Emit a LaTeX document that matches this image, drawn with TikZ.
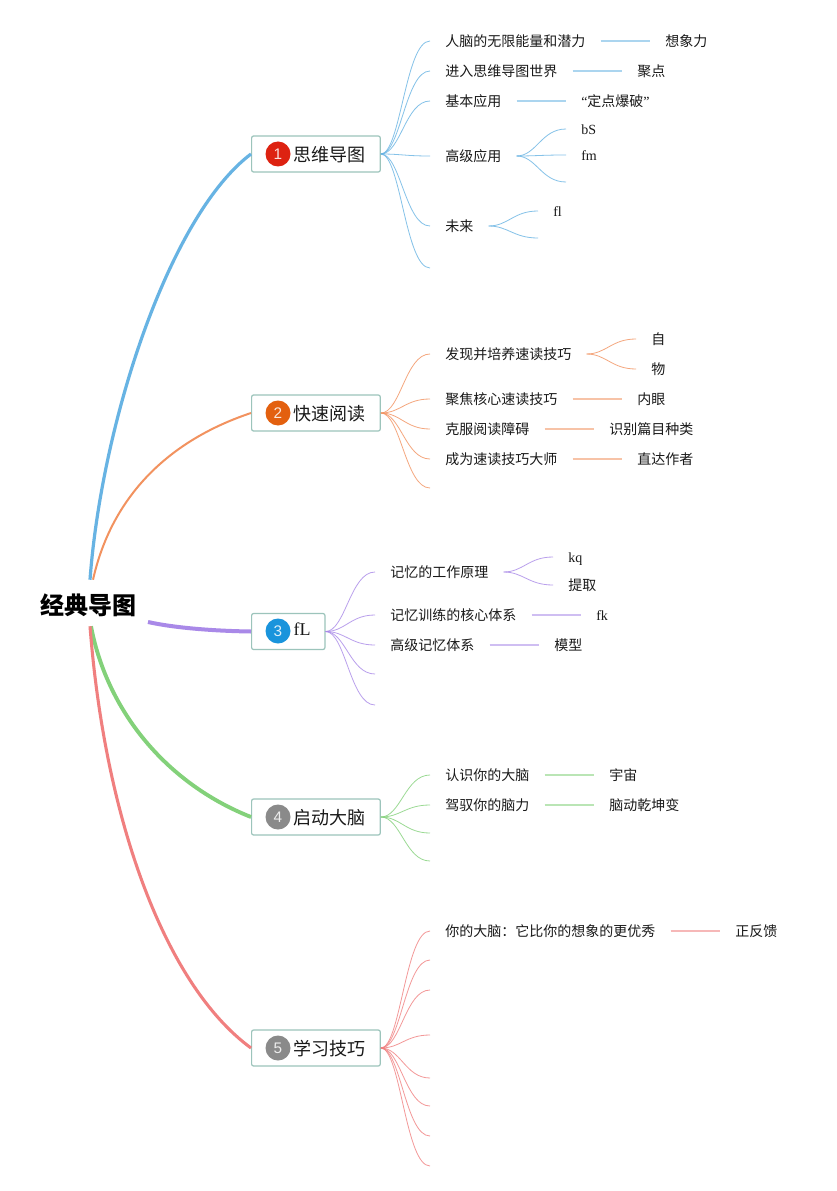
\documentclass[tikz,border=0pt]{standalone}
\usepackage{fontspec}
\setmainfont{Liberation Serif}
\newfontfamily\cjk{Noto Sans CJK SC}
\newfontfamily\numf{Liberation Sans}
\usetikzlibrary{calc}
\definecolor{cBlue}{HTML}{67B3E3}
\definecolor{cOrange}{HTML}{F2925F}
\definecolor{cPurple}{HTML}{A989E8}
\definecolor{cGreen}{HTML}{83D17A}
\definecolor{cRed}{HTML}{F07F7F}
\definecolor{cBox}{HTML}{9CC4BB}
\definecolor{bRed}{HTML}{DD2211}
\definecolor{bOrange}{HTML}{E3600F}
\definecolor{bBlue}{HTML}{1A94DC}
\definecolor{bGray}{HTML}{8A8A8A}
\tikzset{
 leaf/.style={anchor=west,inner xsep=11.25pt,inner ysep=0pt,text height=10.2pt,text depth=2pt,font=\cjk\fontsize{10.5}{12}\selectfont,text=black!90},
 topic/.style={anchor=west,draw=cBox,line width=0.9pt,rounded corners=1.5pt,fill=white,minimum height=27pt,inner ysep=0pt,align=left,text height=13pt,text depth=1.2pt,font=\cjk\fontsize{13.5}{15}\selectfont,text=black!90},
 badge/.style={circle,fill=#1,minimum size=18.75pt,inner sep=0pt,text=white!85!#1,font=\numf\fontsize{11.5}{13}\selectfont},
 rootn/.style={font=\cjk\bfseries\fontsize{18}{20}\selectfont,minimum width=90pt,minimum height=34.5pt,inner sep=0pt,text height=18pt,text depth=1.4pt,text=black},
 thick branch/.style={line width=2.4pt},
 thin branch/.style={line width=0.6pt,draw opacity=0.8},
 flat branch/.style={line width=0.8pt,draw opacity=0.55},
}
\newcommand{\brch}[3]{\draw[thin branch,#1] (#2) .. controls ($(#2)!0.4!(#3 |- #2)$) and ($(#3)!0.5!(#2 |- #3)$) .. (#3);}
\newcommand{\flatl}[3]{\draw[flat branch,#1] (#2) -- (#3);}
\newcommand{\ttext}[1]{\hspace{31.5pt}#1}
\begin{document}
\begin{tikzpicture}[x=0.75pt,y=-0.75pt]
\useasboundingbox (0,0) rectangle (837,1191);
\fill[white] (0,0) rectangle (837,1191);
% root
\node[rootn] (root) at (89,603) {\hspace{-1.4pt}经典导图};
\coordinate (rootA) at ($(root.north)+(1,0)$);
\coordinate (rootB) at ($(root.north)+(4,0)$);
\coordinate (rootC) at (148,622);
\coordinate (rootD) at ($(root.south)+(2,0)$);
\coordinate (rootE) at ($(root.south)+(1,0)$);
% topics
\node[topic,inner xsep=0pt,minimum width=96.5pt,text width=96.5pt] (t1) at (251,154) {\ttext{思维导图}};
\node[topic,inner xsep=0pt,minimum width=96.5pt,text width=96.5pt] (t2) at (251,413) {\ttext{快速阅读}};
\node[topic,inner xsep=0pt,minimum width=55pt,text width=55pt] (t3) at (251,631.5) {\hspace{31.5pt}\raisebox{3pt}{\rmfamily\fontsize{13.5}{15}\selectfont fL}};
\node[topic,inner xsep=0pt,minimum width=96.5pt,text width=96.5pt] (t4) at (251,817) {\ttext{启动大脑}};
\node[topic,inner xsep=0pt,minimum width=96.5pt,text width=96.5pt] (t5) at (251,1048) {\ttext{学习技巧}};
\node[badge=bRed] (b1) at (278,154) {1};
\node[badge=bOrange] (b2) at (278,413) {2};
\node[badge=bBlue] (b3) at (278,631) {3};
\node[badge=bGray] (b4) at (278,817) {4};
\node[badge=bGray] (b5) at (278,1048) {5};
% thick connectors
\draw[thick branch,cBlue] (rootA) .. controls (102,420) and (170,215) .. (t1.west);
\draw[thick branch,cOrange,line width=1.5pt] (rootB) .. controls (112,495) and (170,440) .. (t2.west);
\draw[thick branch,cPurple,line width=3pt] (rootC) .. controls (175,628) and (215,631) .. (t3.west);
\draw[thick branch,cGreen,line width=2.9pt] (rootD) .. controls (108,715) and (170,785) .. (t4.west);
\draw[thick branch,cRed,line width=2.3pt] (rootE) .. controls (105,820) and (165,985) .. (t5.west);
% branch 1
\node[leaf] (a1) at (430,41) {人脑的无限能量和潜力};
\node[leaf] (a2) at (430,71) {进入思维导图世界};
\node[leaf] (a3) at (430,101) {基本应用};
\node[leaf] (a4) at (430,156) {高级应用};
\node[leaf] (a5) at (430,226) {未来};
\coordinate (a6) at (430,268);
\node[leaf] (a1x) at (650,41) {想象力};
\node[leaf] (a2x) at (622,71) {聚点};
\node[leaf] (a3x) at (566,101) {\rmfamily “{\cjk 定点爆破}”};
\node[leaf] (a4x) at (566,129) {\rmfamily bS};
\node[leaf] (a4y) at (566,155) {\rmfamily fm};
\coordinate (a4z) at (566,182);
\node[leaf] (a5x) at (538,211) {\rmfamily fl};
\coordinate (a5y) at (538,238);
\foreach \n/\a in {a1/west,a2/west,a3/west,a4/west,a5/west}{\brch{cBlue}{t1.east}{\n.\a}}
\brch{cBlue}{t1.east}{a6}
\flatl{cBlue}{a1.east}{a1x.west}
\flatl{cBlue}{a2.east}{a2x.west}
\flatl{cBlue}{a3.east}{a3x.west}
\brch{cBlue}{a4.east}{a4x.west}
\brch{cBlue}{a4.east}{a4y.west}
\brch{cBlue}{a4.east}{a4z}
\brch{cBlue}{a5.east}{a5x.west}
\brch{cBlue}{a5.east}{a5y}
% branch 2
\node[leaf] (c1) at (430,354) {发现并培养速读技巧};
\node[leaf] (c2) at (430,399) {聚焦核心速读技巧};
\node[leaf] (c3) at (430,429) {克服阅读障碍};
\node[leaf] (c4) at (430,459) {成为速读技巧大师};
\coordinate (c5) at (430,488);
\node[leaf] (c1x) at (636,339) {自};
\node[leaf] (c1y) at (636,369) {物};
\node[leaf] (c2x) at (622,399) {内眼};
\node[leaf] (c3x) at (594,429) {识别篇目种类};
\node[leaf] (c4x) at (622,459) {直达作者};
\foreach \n in {c1,c2,c3,c4}{\brch{cOrange}{t2.east}{\n.west}}
\brch{cOrange}{t2.east}{c5}
\brch{cOrange}{c1.east}{c1x.west}
\brch{cOrange}{c1.east}{c1y.west}
\flatl{cOrange}{c2.east}{c2x.west}
\flatl{cOrange}{c3.east}{c3x.west}
\flatl{cOrange}{c4.east}{c4x.west}
% branch 3
\node[leaf] (d1) at (375,572) {记忆的工作原理};
\node[leaf] (d2) at (375,615) {记忆训练的核心体系};
\node[leaf] (d3) at (375,645) {高级记忆体系};
\coordinate (d4) at (375,674);
\coordinate (d5) at (375,705);
\node[leaf] (d1x) at (553,557) {\rmfamily kq};
\node[leaf] (d1y) at (553,585) {提取};
\node[leaf] (d2x) at (581,615) {\rmfamily fk};
\node[leaf] (d3x) at (539,645) {模型};
\foreach \n in {d1,d2,d3}{\brch{cPurple}{t3.east}{\n.west}}
\brch{cPurple}{t3.east}{d4}
\brch{cPurple}{t3.east}{d5}
\brch{cPurple}{d1.east}{d1x.west}
\brch{cPurple}{d1.east}{d1y.west}
\flatl{cPurple}{d2.east}{d2x.west}
\flatl{cPurple}{d3.east}{d3x.west}
% branch 4
\node[leaf] (g1) at (430,775) {认识你的大脑};
\node[leaf] (g2) at (430,805) {驾驭你的脑力};
\coordinate (g3) at (430,833);
\coordinate (g4) at (430,861);
\node[leaf] (g1x) at (594,775) {宇宙};
\node[leaf] (g2x) at (594,805) {脑动乾坤变};
\foreach \n in {g1,g2}{\brch{cGreen}{t4.east}{\n.west}}
\brch{cGreen}{t4.east}{g3}
\brch{cGreen}{t4.east}{g4}
\flatl{cGreen}{g1.east}{g1x.west}
\flatl{cGreen}{g2.east}{g2x.west}
% branch 5
\node[leaf] (r1) at (430,931) {你的大脑：它比你的想象的更优秀};
\node[leaf] (r1x) at (720,931) {正反馈};
\coordinate (r2) at (430,960);
\coordinate (r3) at (430,990);
\coordinate (r4) at (430,1035);
\coordinate (r5) at (430,1078);
\coordinate (r6) at (430,1106);
\coordinate (r7) at (430,1136);
\coordinate (r8) at (430,1166);
\brch{cRed}{t5.east}{r1.west}
\foreach \n in {r2,r3,r4,r5,r6,r7,r8}{\brch{cRed}{t5.east}{\n}}
\flatl{cRed}{r1.east}{r1x.west}
\end{tikzpicture}
\end{document}
